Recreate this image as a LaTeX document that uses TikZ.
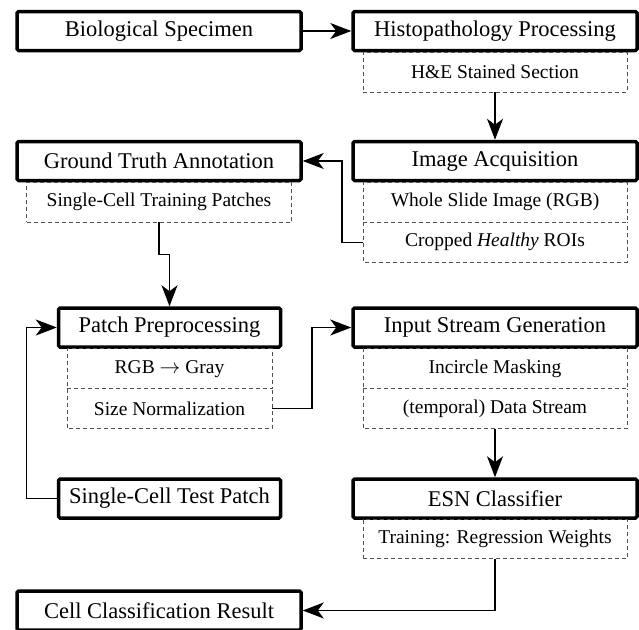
\documentclass[tikz,border=0pt]{standalone}
\usepackage{amsmath}
\usepackage{fontspec}
\setmainfont{Liberation Serif}
\usepackage{tikz}
\usetikzlibrary{positioning,arrows.meta}
\definecolor{subline}{RGB}{80, 80, 80}

\begin{document}
\begin{tikzpicture}[
      x=1pt, y=-1pt,
      stage/.style={draw=black, line width=3.5pt, rounded corners=1.5pt,
                    minimum width=284pt, minimum height=39pt,
                    inner sep=0pt, fill=white,
                    font=\fontsize{22.5}{27}\selectfont},
      smallstage/.style={stage, minimum width=222pt},
      subedge/.style={draw=subline, line width=0.9pt,
                      dash pattern=on 4pt off 3pt},
      sub/.style={subedge,
                  minimum width=264pt, minimum height=40pt,
                  inner sep=0pt, outer sep=0pt,
                  font=\fontsize{19.5}{23}\selectfont},
      subnext/.style={sub, draw=none},
      flow/.style={line width=1.2pt,
                   -{Stealth[length=21pt, width=16pt, inset=6pt]}},
    ]
    \useasboundingbox (0,0) rectangle (639,629);
    %% main stages
    \node[stage] (bio)    at (159,31)    {Biological Specimen};
    \node[stage] (hist)   at (495,31)    {Histopathology Processing};
    \node[stage] (gt)     at (159,161)   {Ground Truth Annotation};
    \node[stage] (img)    at (495,161)   {Image Acquisition};
    \node[smallstage] (pp)   at (169.5,327.5) {Patch Preprocessing};
    \node[stage] (isg)    at (495,327.5) {Input Stream Generation};
    \node[smallstage] (test) at (169.5,498.5) {Single-Cell Test Patch};
    \node[stage] (esn)    at (495,498.5) {ESN Classifier};
    \node[stage] (result) at (159,610.5) {Cell Classification Result};
    %% dashed sub steps
    \node[sub, below=0pt of hist] (hne) {H\&E Stained Section};
    \node[sub, below=0pt of gt, minimum width=265pt] (train)
      {Single-Cell Training Patches};
    \node[sub, below=0pt of img] (wsi) {Whole Slide Image (RGB)};
    \node[subnext, below=0pt of wsi] (roi) {Cropped \textit{Healthy} ROIs};
    \node[sub, below=0pt of pp, minimum width=205pt] (gray)
      {RGB $\rightarrow$ Gray};
    \node[subnext, below=0pt of gray, minimum width=205pt] (norm)
      {Size Normalization};
    \node[sub, below=0pt of isg] (mask) {Incircle Masking};
    \node[subnext, below=0pt of mask] (stream) {(temporal) Data Stream};
    \node[sub, below=0pt of esn, minimum height=39pt] (weights)
      {Training: Regression Weights};
    %% open-topped dashed boxes (top edge shared with the box above)
    \foreach \n in {roi,norm,stream}
      \draw[subedge] (\n.north west) -- (\n.south west)
                     -- (\n.south east) -- (\n.north east);
    %% connectors
    \draw[flow] (bio.east) -- (hist.west);
    \draw[flow] (hne.south) -- (img.north);
    \draw[flow] (roi.west) -- ++(-21,0) |- (gt.east);
    \draw[flow] (train.south) -- ++(0,32) -| (pp.north);
    \draw[flow] (norm.east) -- ++(40,0) |- (isg.west);
    \draw[flow] (test.west) -- ++(-30,0) |- (pp.west);
    \draw[flow] (stream.south) -- (esn.north);
    \draw[flow] (weights.south) |- (result.east);
    \end{tikzpicture}
\end{document}
